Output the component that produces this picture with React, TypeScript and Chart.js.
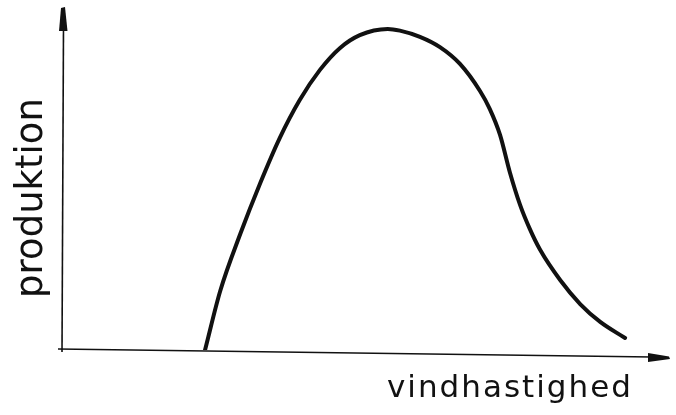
import React, { useEffect, useRef } from "react";
import { Chart, registerables } from "chart.js";

Chart.register(...registerables);

// Wind speed (normalised 0–100 along the horizontal axis)
const windSpeed = [23.4, 25.9, 29.2, 32.5, 35.7, 39.0, 42.3, 45.6, 48.9, 53.5, 55.5, 58.8, 62.1, 65.4, 68.7, 70.3, 72.0, 73.6, 75.3, 76.9, 78.6, 81.9, 85.2, 88.5, 92.6];
// Production (normalised 0–100 along the vertical axis)
const production = [0, 17.2, 33.8, 48.7, 61.8, 72.9, 81.6, 88.0, 91.8, 93.6, 93.1, 91.3, 88.3, 83.4, 75.5, 70.3, 62.7, 51.9, 42.3, 35.3, 29.2, 20.4, 13.4, 8.2, 3.5];

const xAxisLabel = "vindhastighed";
const yAxisLabel = "produktion";

const INK = "#111111";

const sketchAxes = {
  id: "sketchAxes",
  afterDatasetsDraw(chart: any) {
    const { ctx, chartArea } = chart;
    const { left, right, top, bottom } = chartArea;
    ctx.save();
    ctx.strokeStyle = INK;
    ctx.fillStyle = INK;
    ctx.lineWidth = 1.6;
    // vertical axis
    ctx.beginPath();
    ctx.moveTo(left - 1, bottom + 2);
    ctx.lineTo(left + 0.5, top + 18);
    ctx.stroke();
    // vertical arrowhead
    ctx.beginPath();
    ctx.moveTo(left - 4, top + 24);
    ctx.lineTo(left - 2, top + 1);
    ctx.lineTo(left + 2, top);
    ctx.lineTo(left + 4.5, top + 24);
    ctx.closePath();
    ctx.fill();
    // horizontal axis
    ctx.beginPath();
    ctx.moveTo(left - 5, bottom - 1);
    ctx.lineTo(right - 18, bottom + 7);
    ctx.stroke();
    // horizontal arrowhead
    ctx.beginPath();
    ctx.moveTo(right - 22, bottom + 3);
    ctx.lineTo(right - 1, bottom + 6.5);
    ctx.lineTo(right, bottom + 9);
    ctx.lineTo(right - 22, bottom + 12);
    ctx.closePath();
    ctx.fill();

    // y label
    ctx.font = "37px 'DejaVu Sans'";
    ctx.textAlign = "center";
    ctx.textBaseline = "alphabetic";
    ctx.save();
    ctx.translate(42, 198);
    ctx.rotate(-Math.PI / 2);
    ctx.fillText(yAxisLabel, 0, 0);
    ctx.restore();

    // x label
    ctx.font = "31px 'DejaVu Sans'";
    ctx.textAlign = "left";
    (ctx as any).letterSpacing = "2px";
    ctx.fillText(xAxisLabel, 387, 397);
    ctx.restore();
  },
};

export default function App() {
  const ref = useRef<HTMLCanvasElement>(null);
  useEffect(() => {
    if (!ref.current) return;
    const chart = new Chart(ref.current, {
      type: "line",
      data: {
        datasets: [
          {
            data: windSpeed.map((x, i) => ({ x, y: production[i] })),
            borderColor: INK,
            borderWidth: 4,
            pointRadius: 0,
            cubicInterpolationMode: "monotone",
            borderCapStyle: "round",
            borderJoinStyle: "round",
            fill: false,
          },
        ],
      },
      options: {
        responsive: false,
        animation: false,
        layout: { padding: { left: 63, right: 6, top: 7, bottom: 65 } },
        scales: {
          x: { type: "linear", min: 0, max: 100, display: false },
          y: { type: "linear", min: 0, max: 100, display: false },
        },
        plugins: { legend: { display: false }, tooltip: { enabled: false } },
      },
      plugins: [sketchAxes],
    });
    return () => chart.destroy();
  }, []);
  return (
    <div style={{ position: "fixed", left: 0, top: 0, width: 676, height: 415, background: "#fff" }}>
      <canvas ref={ref} width={676} height={415} />
    </div>
  );
}
